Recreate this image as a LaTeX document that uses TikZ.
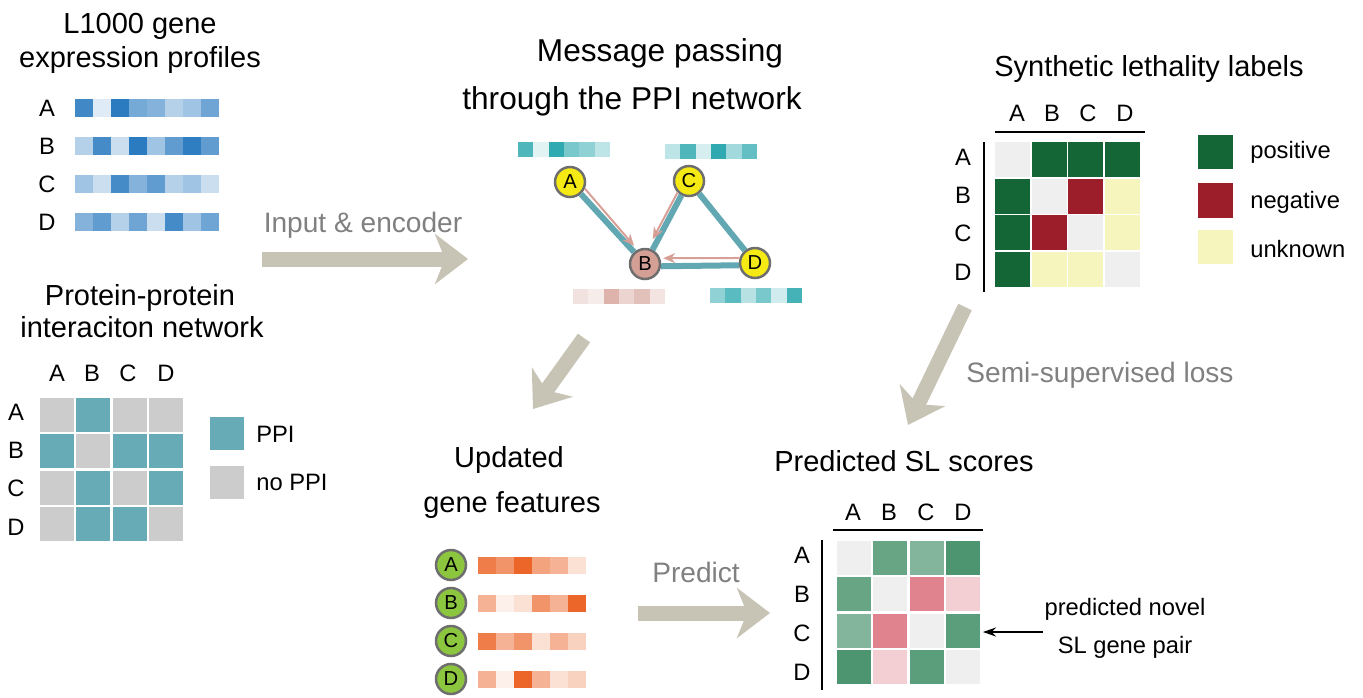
\documentclass[tikz,border=0pt]{standalone}
\usepackage{fontspec}
\setmainfont{Liberation Sans}
\usetikzlibrary{arrows.meta}
\definecolor{lblue}{RGB}{43,123,192}
\definecolor{tealc}{RGB}{48,170,176}
\definecolor{pinkc}{RGB}{212,160,150}
\definecolor{orangec}{RGB}{236,102,42}
\definecolor{ppiteal}{RGB}{102,171,181}
\definecolor{noppi}{RGB}{204,204,204}
\definecolor{diaggray}{RGB}{239,239,239}
\definecolor{posgreen}{RGB}{20,102,54}
\definecolor{negred}{RGB}{155,30,42}
\definecolor{unkyellow}{RGB}{246,245,189}
\definecolor{sgreen}{RGB}{76,149,112}
\definecolor{spink}{RGB}{225,131,143}
\definecolor{beige}{RGB}{200,196,181}
\definecolor{steptext}{RGB}{128,128,128}
\definecolor{edgeteal}{RGB}{98,168,178}
\definecolor{msgpink}{RGB}{214,160,150}
\definecolor{nodeyellow}{RGB}{245,234,20}
\definecolor{nodegreen}{RGB}{140,198,63}
\definecolor{nodering}{RGB}{110,110,110}
\begin{document}
\begin{tikzpicture}[x=0.02cm,y=-0.02cm,
    title/.style={font=\fontsize{16.5}{20}\selectfont,anchor=base,inner sep=0pt},
    bigtitle/.style={title,font=\fontsize{18}{21}\selectfont},
    steplabel/.style={font=\fontsize{16}{19}\selectfont,text=steptext,anchor=base,inner sep=0pt},
    letter/.style={font=\fontsize{13.5}{16}\selectfont,inner sep=0pt},
    legendtext/.style={font=\fontsize{13.5}{16}\selectfont,anchor=base west,inner sep=0pt},
    bigarrow/.style={draw=beige,line width=0.3cm,-{Stealth[length=0.66cm,width=1cm,inset=0.2cm]}},
    gene/.style={circle,draw=nodering,line width=0.05cm,minimum size=0.6cm,inner sep=0pt,font=\fontsize{11.5}{13}\selectfont},
    msg/.style={draw=msgpink,line width=0.04cm,-{Stealth[length=0.24cm,width=0.2cm]}},
    ppiedge/.style={draw=edgeteal,line width=0.12cm}]
  \useasboundingbox (0,0) rectangle (1363,697);

  % L1000 profiles
  \node[title] (l1000a) at (140,33) {L1000 gene};
  \node[title] (l1000b) at (140,67) {expression profiles};
  \foreach \g/\vals [count=\r from 0] in {A/{90,15,100,65,58,35,45,68},B/{35,88,25,100,45,75,98,75},
      C/{45,25,88,58,75,35,45,25},D/{58,75,35,68,25,88,45,68}} {
    \node[letter] (expr\g) at (47,{108+38*\r}) {\g};
    \foreach \v [count=\i from 0] in \vals
      \fill[lblue!\v!white] ({75+18*\i},{99+38*\r}) rectangle ++(18,18);
  }

  % PPI matrix
  \node[title] (ppititle1) at (140,305) {Protein-protein};
  \node[title] (ppititle2) at (142,337) {interaciton network};
  \foreach \g/\x/\y [count=\j from 0] in {A/57/412,B/92/450,C/128/488,D/166/527} {
    \node[letter] (ppicol\g) at (\x,373) {\g};
    \node[letter] (ppirow\g) at (16,\y) {\g};
  }
  \foreach \c [count=\k from 0] in {noppi,ppiteal,noppi,noppi, ppiteal,noppi,ppiteal,ppiteal,
      noppi,ppiteal,noppi,ppiteal, noppi,ppiteal,ppiteal,noppi} {
    \pgfmathtruncatemacro\col{mod(\k,4)}
    \pgfmathtruncatemacro\row{\k/4}
    \fill[\c] ({40+36.3*\col},{398+36.3*\row}) rectangle ++(34,34);
  }
  \fill[ppiteal] (210,417) rectangle (244,450);
  \fill[noppi] (210,466) rectangle (244,499);
  \node[legendtext] (legppi) at (256,442) {PPI};
  \node[legendtext] (legnoppi) at (256,490) {no PPI};

  % input arrow
  \coordinate (encstart) at (262,259);
  \coordinate (encend) at (468,259);
  \draw[bigarrow] (encstart) -- (encend);
  \node[steplabel] (enclabel) at (363,232) {Input \& encoder};

  % message passing
  \node[bigtitle] (mptitle1) at (660,61) {Message passing};
  \node[bigtitle] (mptitle2) at (632,109) {through the PPI network};
  \foreach \x/\y/\c/\vals in {518/142/tealc/{85,14,100,65,54,32},665/144/tealc/{32,85,20,100,45,75},
      573/289/pinkc/{30,20,80,45,65,28},710/288/tealc/{54,80,35,65,22,90}}
    \foreach \v [count=\i from 0] in \vals
      \fill[\c!\v!white] ({\x+15.3*\i},\y) rectangle ++(15.3,15);
  \node[gene,fill=nodeyellow] (A) at (570,182) {A};
  \node[gene,fill=nodeyellow] (C) at (689,181) {C};
  \node[gene,fill=pinkc] (B) at (645,264) {B};
  \node[gene,fill=nodeyellow] (D) at (755,263) {D};
  \draw[ppiedge] (A) -- (B);
  \draw[ppiedge] (C) -- (B);
  \draw[ppiedge] (C) -- (D);
  \draw[ppiedge] (B.-8) -- (D.188);
  \draw[msg,shorten >=0.1cm] (A.-24) -- (B.118);
  \draw[msg,shorten >=0.2cm] (C.-135) -- (B.79);
  \draw[msg,shorten >=0.06cm] (D.162) -- (B.21);

  % down to updated features
  \coordinate (mpout) at (584,338);
  \coordinate (updin) at (533,409);
  \draw[bigarrow] (mpout) -- (updin);

  % updated gene features
  \node[title] (updtitle1) at (509,467) {Updated};
  \node[title] (updtitle2) at (512,512) {gene features};
  \foreach \g/\vals [count=\r from 0] in {A/{85,70,100,60,50,20},B/{50,10,20,70,50,100},
      C/{85,50,70,20,50,30},D/{50,10,100,50,20,30}} {
    \node[gene,fill=nodegreen] (upd\g) at (451,{565+38*\r}) {\g};
    \foreach \v [count=\i from 0] in \vals
      \fill[orangec!\v!white] ({478+18*\i},{557+38*\r}) rectangle ++(18,17);
  }

  % predict arrow
  \coordinate (featout) at (638,613);
  \coordinate (scorein) at (770,613);
  \draw[bigarrow] (featout) -- (scorein);
  \node[steplabel] (predlabel) at (696,582) {Predict};

  % SL labels
  \node[title] (sltitle) at (1149,76) {Synthetic lethality labels};
  \foreach \g/\x/\y [count=\j from 0] in {A/1017/157,B/1052/195,C/1088/233,D/1125/272} {
    \node[letter] (slcol\g) at (\x,113) {\g};
    \node[letter] (slrow\g) at (963,\y) {\g};
  }
  \draw[line width=0.05cm] (995,132) -- (1145,132);
  \draw[line width=0.05cm] (984,142) -- (984,292);
  \foreach \c [count=\k from 0] in {diaggray,posgreen,posgreen,posgreen, posgreen,diaggray,negred,unkyellow,
      posgreen,negred,diaggray,unkyellow, posgreen,unkyellow,unkyellow,diaggray} {
    \pgfmathtruncatemacro\col{mod(\k,4)}
    \pgfmathtruncatemacro\row{\k/4}
    \fill[\c] ({995+36.6*\col},{142+36.6*\row}) rectangle ++(35,35);
  }
  \fill[posgreen] (1198,135) rectangle (1233,169);
  \fill[negred] (1198,183) rectangle (1233,218);
  \fill[unkyellow] (1198,230) rectangle (1233,264);
  \node[legendtext] (legpos) at (1250,158) {positive};
  \node[legendtext] (legneg) at (1250,208) {negative};
  \node[legendtext] (legunk) at (1250,257) {unknown};

  % loss arrow
  \coordinate (slout) at (965,307);
  \coordinate (predin) at (908,425);
  \draw[bigarrow] (slout) -- (predin);
  \node[steplabel] (losslabel) at (1100,382) {Semi-supervised loss};

  % predicted SL scores
  \node[title] (predtitle) at (904,471) {Predicted SL scores};
  \foreach \g/\x/\y [count=\j from 0] in {A/853/555,B/889/594,C/926/633,D/963/672} {
    \node[letter] (pcol\g) at (\x,512) {\g};
    \node[letter] (prow\g) at (802,\y) {\g};
  }
  \draw[line width=0.05cm] (833,530) -- (983,530);
  \draw[line width=0.05cm] (822,540) -- (822,690);
  \foreach \c [count=\k from 0] in {diaggray,sgreen!85!white,sgreen!70!white,sgreen,
      sgreen!85!white,diaggray,spink,spink!40!white, sgreen!70!white,spink,diaggray,sgreen!92!white,
      sgreen,spink!40!white,sgreen!92!white,diaggray} {
    \pgfmathtruncatemacro\col{mod(\k,4)}
    \pgfmathtruncatemacro\row{\k/4}
    \fill[\c] ({837+36.3*\col},{541+36.3*\row}) rectangle ++(34,34);
  }
  \coordinate (cellCD) at (983,632);
  \coordinate (novelstart) at (1043,632);
  \draw[line width=0.04cm,-{Stealth[length=0.26cm,width=0.18cm]}] (novelstart) -- (cellCD);
  \node[legendtext,anchor=base] (novel1) at (1125,615) {predicted novel};
  \node[legendtext,anchor=base] (novel2) at (1125,653) {SL gene pair};
\end{tikzpicture}
\end{document}
